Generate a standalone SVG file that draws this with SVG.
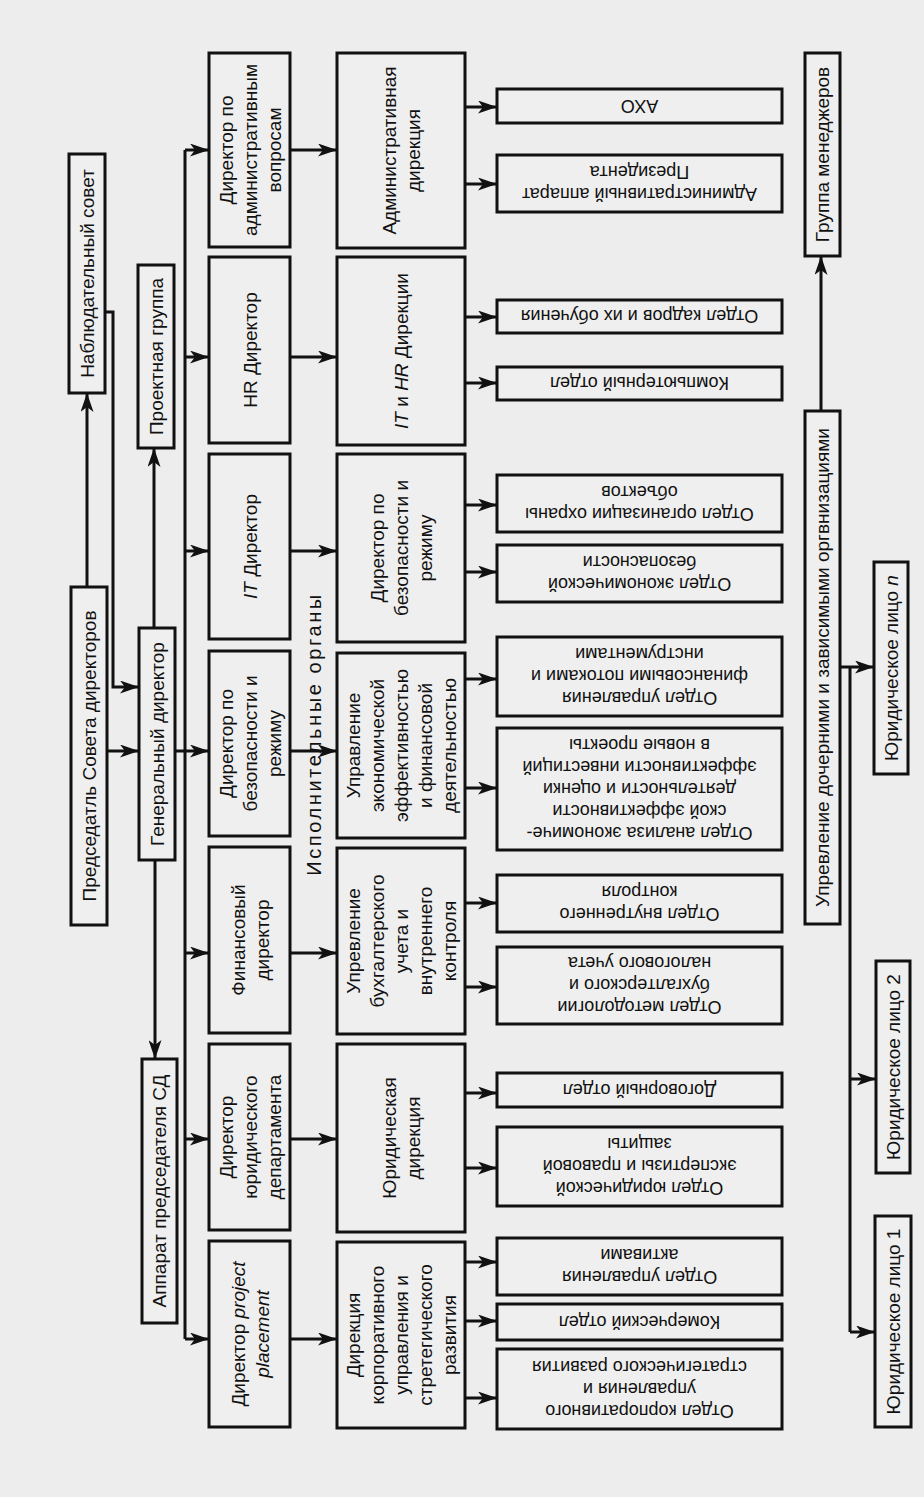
<svg xmlns="http://www.w3.org/2000/svg" width="924" height="1497" viewBox="0 0 924 1497">
<style>
.b{fill:#efefef;stroke:#111;stroke-width:3}
.t{font-family:"Liberation Sans",Arial,sans-serif;font-size:19px;fill:#111;text-anchor:middle}
.d{font-family:"Liberation Sans",Arial,sans-serif;font-size:18px;fill:#111;text-anchor:middle}
.c{fill:none;stroke:#111;stroke-width:3}
.a{marker-end:url(#ah)}
.i{font-style:italic}
</style>
<defs>
<marker id="ah" markerUnits="userSpaceOnUse" markerWidth="19" markerHeight="13" refX="18" refY="6.5" orient="auto">
<path d="M0,0 L19,6.5 L0,13 L5,6.5 z" fill="#111"/>
</marker>
</defs>
<rect x="0" y="0" width="924" height="1497" fill="#ededed"/>

<g id="connectors">
<path class="c" d="M185,150 L185,1339"/>
<path class="c a" d="M185,150 L208,150"/>
<path class="c a" d="M185,357 L208,357"/>
<path class="c a" d="M185,551 L208,551"/>
<path class="c a" d="M175,751 L208,751"/>
<path class="c a" d="M185,953 L208,953"/>
<path class="c a" d="M185,1139 L208,1139"/>
<path class="c a" d="M185,1339 L208,1339"/>
<path class="c a" d="M291,150 L336,150"/>
<path class="c a" d="M291,357 L336,357"/>
<path class="c a" d="M291,551 L336,551"/>
<path class="c a" d="M291,751 L336,751"/>
<path class="c a" d="M291,953 L336,953"/>
<path class="c a" d="M291,1139 L336,1139"/>
<path class="c a" d="M291,1339 L336,1339"/>
<path class="c a" d="M465,107 L496,107"/>
<path class="c a" d="M465,184 L496,184"/>
<path class="c a" d="M465,317 L496,317"/>
<path class="c a" d="M465,383 L496,383"/>
<path class="c a" d="M465,505 L496,505"/>
<path class="c a" d="M465,572 L496,572"/>
<path class="c a" d="M465,679 L496,679"/>
<path class="c a" d="M465,788 L496,788"/>
<path class="c a" d="M465,903 L496,903"/>
<path class="c a" d="M465,987 L496,987"/>
<path class="c a" d="M465,1093 L496,1093"/>
<path class="c a" d="M465,1168 L496,1168"/>
<path class="c a" d="M465,1262 L496,1262"/>
<path class="c a" d="M465,1321 L496,1321"/>
<path class="c a" d="M465,1398 L496,1398"/>
<path class="c a" d="M87,587 L87,394"/>
<path class="c a" d="M107,751 L138,751"/>
<path class="c a" d="M105,312 L113,312 L113,687 L138,687"/>
<path class="c a" d="M154,628 L154,449"/>
<path class="c a" d="M155,860 L155,1058"/>
<path class="c a" d="M821,411 L821,257"/>
<path class="c a" d="M840,667 L873,667"/>
<path class="c" d="M850,667 L850,1332"/>
<path class="c a" d="M850,1079 L875,1079"/>
<path class="c a" d="M850,1332 L874,1332"/>
</g>

<text class="t" transform="translate(314,734) rotate(-90)" style="font-size:20px;letter-spacing:2.6px" y="7">Исполнительные органы</text>

<g id="nablyud"><rect class="b" x="69" y="154" width="36" height="239"/><text class="t" transform="translate(87,273.5) rotate(-90)" y="6.65">Наблюдательный совет</text></g>
<g id="proekt"><rect class="b" x="138" y="265" width="36" height="183"/><text class="t" transform="translate(156,356.5) rotate(-90)" y="6.65">Проектная группа</text></g>
<g id="predsed"><rect class="b" x="71" y="587" width="36" height="338"/><text class="t" transform="translate(89,756) rotate(-90)" y="6.65">Председатль Совета директоров</text></g>
<g id="gendir"><rect class="b" x="139" y="628" width="36" height="232"/><text class="t" transform="translate(157,744) rotate(-90)" y="6.65">Генеральный директор</text></g>
<g id="apparat"><rect class="b" x="142" y="1059" width="35" height="264"/><text class="t" transform="translate(159.5,1191) rotate(-90)" y="6.65">Аппарат председателя СД</text></g>

<g id="dir-admin"><rect class="b" x="209" y="53" width="81" height="194"/><text class="t" transform="translate(250,150) rotate(-90)"><tspan x="0" y="-17.35">Директор по</tspan><tspan x="0" y="6.65">административным</tspan><tspan x="0" y="30.65">вопросам</tspan></text></g>
<g id="dir-hr"><rect class="b" x="209" y="257" width="81" height="186"/><text class="t" transform="translate(250,350) rotate(-90)" y="6.65">HR Директор</text></g>
<g id="dir-it"><rect class="b" x="209" y="454" width="81" height="185"/><text class="t" transform="translate(250,546.5) rotate(-90)" y="6.65"><tspan class="i">IT</tspan> Директор</text></g>
<g id="dir-bez"><rect class="b" x="209" y="651" width="81" height="185"/><text class="t" transform="translate(250,743.5) rotate(-90)"><tspan x="0" y="-17.35">Директор по</tspan><tspan x="0" y="6.65">безопасности и</tspan><tspan x="0" y="30.65">режиму</tspan></text></g>
<g id="dir-fin"><rect class="b" x="209" y="847" width="81" height="186"/><text class="t" transform="translate(250,940) rotate(-90)"><tspan x="0" y="-5.35">Финансовый</tspan><tspan x="0" y="18.65">директор</tspan></text></g>
<g id="dir-yur"><rect class="b" x="209" y="1044" width="81" height="186"/><text class="t" transform="translate(250,1137) rotate(-90)"><tspan x="0" y="-17.35">Директор</tspan><tspan x="0" y="6.65">юридического</tspan><tspan x="0" y="30.65">департамента</tspan></text></g>
<g id="dir-proj"><rect class="b" x="209" y="1241" width="81" height="186"/><text class="t" transform="translate(250,1334) rotate(-90)"><tspan x="0" y="-5.35">Директор <tspan class="i">project</tspan></tspan><tspan x="0" y="18.65" class="i">placement</tspan></text></g>

<g id="div-admin"><rect class="b" x="337" y="53" width="128" height="195"/><text class="t" transform="translate(401,150.5) rotate(-90)"><tspan x="0" y="-5.35">Административная</tspan><tspan x="0" y="18.65">дирекция</tspan></text></g>
<g id="div-ithr"><rect class="b" x="337" y="257" width="128" height="188"/><text class="t" transform="translate(401,351) rotate(-90)" y="6.65"><tspan class="i">IT</tspan> и <tspan class="i">HR</tspan> Дирекции</text></g>
<g id="div-bez"><rect class="b" x="337" y="454" width="128" height="188"/><text class="t" transform="translate(401,548) rotate(-90)"><tspan x="0" y="-17.35">Директор по</tspan><tspan x="0" y="6.65">безопасности и</tspan><tspan x="0" y="30.65">режиму</tspan></text></g>
<g id="div-econ"><rect class="b" x="337" y="653" width="128" height="185"/><text class="t" transform="translate(401,745.5) rotate(-90)"><tspan x="0" y="-41.35">Управление</tspan><tspan x="0" y="-17.35">экономической</tspan><tspan x="0" y="6.65">эффективностью</tspan><tspan x="0" y="30.65">и финансовой</tspan><tspan x="0" y="54.65">деятельностью</tspan></text></g>
<g id="div-buh"><rect class="b" x="337" y="848" width="128" height="186"/><text class="t" transform="translate(401,941) rotate(-90)"><tspan x="0" y="-41.35">Упревление</tspan><tspan x="0" y="-17.35">бухгалтерского</tspan><tspan x="0" y="6.65">учета и</tspan><tspan x="0" y="30.65">внутреннего</tspan><tspan x="0" y="54.65">контроля</tspan></text></g>
<g id="div-yur"><rect class="b" x="337" y="1044" width="128" height="188"/><text class="t" transform="translate(401,1138) rotate(-90)"><tspan x="0" y="-5.35">Юридическая</tspan><tspan x="0" y="18.65">дирекция</tspan></text></g>
<g id="div-korp"><rect class="b" x="337" y="1242" width="128" height="186"/><text class="t" transform="translate(401,1335) rotate(-90)"><tspan x="0" y="-41.35">Дирекция</tspan><tspan x="0" y="-17.35">корпоративного</tspan><tspan x="0" y="6.65">управления и</tspan><tspan x="0" y="30.65">стретегического</tspan><tspan x="0" y="54.65">развития</tspan></text></g>

<g id="dep-aho"><rect class="b" x="497" y="89" width="285" height="34"/><text class="d" transform="translate(639.5,106) rotate(180)" y="6.3">АХО</text></g>
<g id="dep-apparat"><rect class="b" x="497" y="155" width="285" height="57"/><text class="d" transform="translate(639.5,183.5) rotate(180)"><tspan x="0" y="-4.7">Административный аппарат</tspan><tspan x="0" y="17.3">Президента</tspan></text></g>
<g id="dep-kadry"><rect class="b" x="497" y="300" width="285" height="33"/><text class="d" transform="translate(639.5,316.5) rotate(180)" y="6.3">Отдел кадров и их обучения</text></g>
<g id="dep-comp"><rect class="b" x="497" y="367" width="285" height="33"/><text class="d" transform="translate(639.5,383.5) rotate(180)" y="6.3">Компьютерный отдел</text></g>
<g id="dep-ohrana"><rect class="b" x="497" y="475" width="285" height="57"/><text class="d" transform="translate(639.5,503.5) rotate(180)"><tspan x="0" y="-4.7">Отдел организации охраны</tspan><tspan x="0" y="17.3">объектов</tspan></text></g>
<g id="dep-ekbez"><rect class="b" x="497" y="545" width="285" height="57"/><text class="d" transform="translate(639.5,573.5) rotate(180)"><tspan x="0" y="-4.7">Отдел экономической</tspan><tspan x="0" y="17.3">безопасности</tspan></text></g>
<g id="dep-finpot"><rect class="b" x="497" y="637" width="285" height="79"/><text class="d" transform="translate(639.5,676.5) rotate(180)"><tspan x="0" y="-15.7">Отдел управления</tspan><tspan x="0" y="6.3">финансовыми потоками и</tspan><tspan x="0" y="28.3">инструментами</tspan></text></g>
<g id="dep-analiz"><rect class="b" x="497" y="728" width="285" height="122"/><text class="d" transform="translate(639.5,789) rotate(180)"><tspan x="0" y="-37.7">Отдел анализа экономиче-</tspan><tspan x="0" y="-15.7">ской эффективности</tspan><tspan x="0" y="6.3">деятельности и оценки</tspan><tspan x="0" y="28.3">эффективности инвестиций</tspan><tspan x="0" y="50.3">в новые проекты</tspan></text></g>
<g id="dep-vnutr"><rect class="b" x="497" y="875" width="285" height="57"/><text class="d" transform="translate(639.5,903.5) rotate(180)"><tspan x="0" y="-4.7">Отдел внутреннего</tspan><tspan x="0" y="17.3">контроля</tspan></text></g>
<g id="dep-metod"><rect class="b" x="497" y="947" width="285" height="77"/><text class="d" transform="translate(639.5,985.5) rotate(180)"><tspan x="0" y="-15.7">Отдел методологии</tspan><tspan x="0" y="6.3">бухгалтерского и</tspan><tspan x="0" y="28.3">налогового учета</tspan></text></g>
<g id="dep-dogovor"><rect class="b" x="497" y="1073" width="285" height="34"/><text class="d" transform="translate(639.5,1090) rotate(180)" y="6.3">Договорный отдел</text></g>
<g id="dep-ekspert"><rect class="b" x="497" y="1127" width="285" height="79"/><text class="d" transform="translate(639.5,1166.5) rotate(180)"><tspan x="0" y="-15.7">Отдел юридической</tspan><tspan x="0" y="6.3">экспертизы и правовой</tspan><tspan x="0" y="28.3">защиты</tspan></text></g>
<g id="dep-aktiv"><rect class="b" x="497" y="1238" width="285" height="57"/><text class="d" transform="translate(639.5,1266.5) rotate(180)"><tspan x="0" y="-4.7">Отдел управления</tspan><tspan x="0" y="17.3">активами</tspan></text></g>
<g id="dep-komerc"><rect class="b" x="497" y="1304" width="285" height="36"/><text class="d" transform="translate(639.5,1322) rotate(180)" y="6.3">Комерческий отдел</text></g>
<g id="dep-korp"><rect class="b" x="497" y="1349" width="285" height="80"/><text class="d" transform="translate(639.5,1389) rotate(180)"><tspan x="0" y="-15.7">Отдел корпоративного</tspan><tspan x="0" y="6.3">управления и</tspan><tspan x="0" y="28.3">стратегического развития</tspan></text></g>

<g id="gruppa"><rect class="b" x="805" y="53" width="35" height="203"/><text class="t" transform="translate(822.5,154.5) rotate(-90)" y="6.65">Группа менеджеров</text></g>
<g id="upr-doch"><rect class="b" x="805" y="411" width="35" height="513"/><text class="t" transform="translate(822.5,667.5) rotate(-90)" y="6.65">Упревление дочерними и зависимыми оргвнизациями</text></g>
<g id="yur-n"><rect class="b" x="874" y="562" width="34" height="212"/><text class="t" transform="translate(891,668) rotate(-90)" y="6.65">Юридическое лицо <tspan class="i">n</tspan></text></g>
<g id="yur-2"><rect class="b" x="876" y="961" width="34" height="212"/><text class="t" transform="translate(893,1067) rotate(-90)" y="6.65">Юридическое лицо 2</text></g>
<g id="yur-1"><rect class="b" x="875" y="1216" width="36" height="211"/><text class="t" transform="translate(893,1321.5) rotate(-90)" y="6.65">Юридическое лицо 1</text></g>
</svg>
